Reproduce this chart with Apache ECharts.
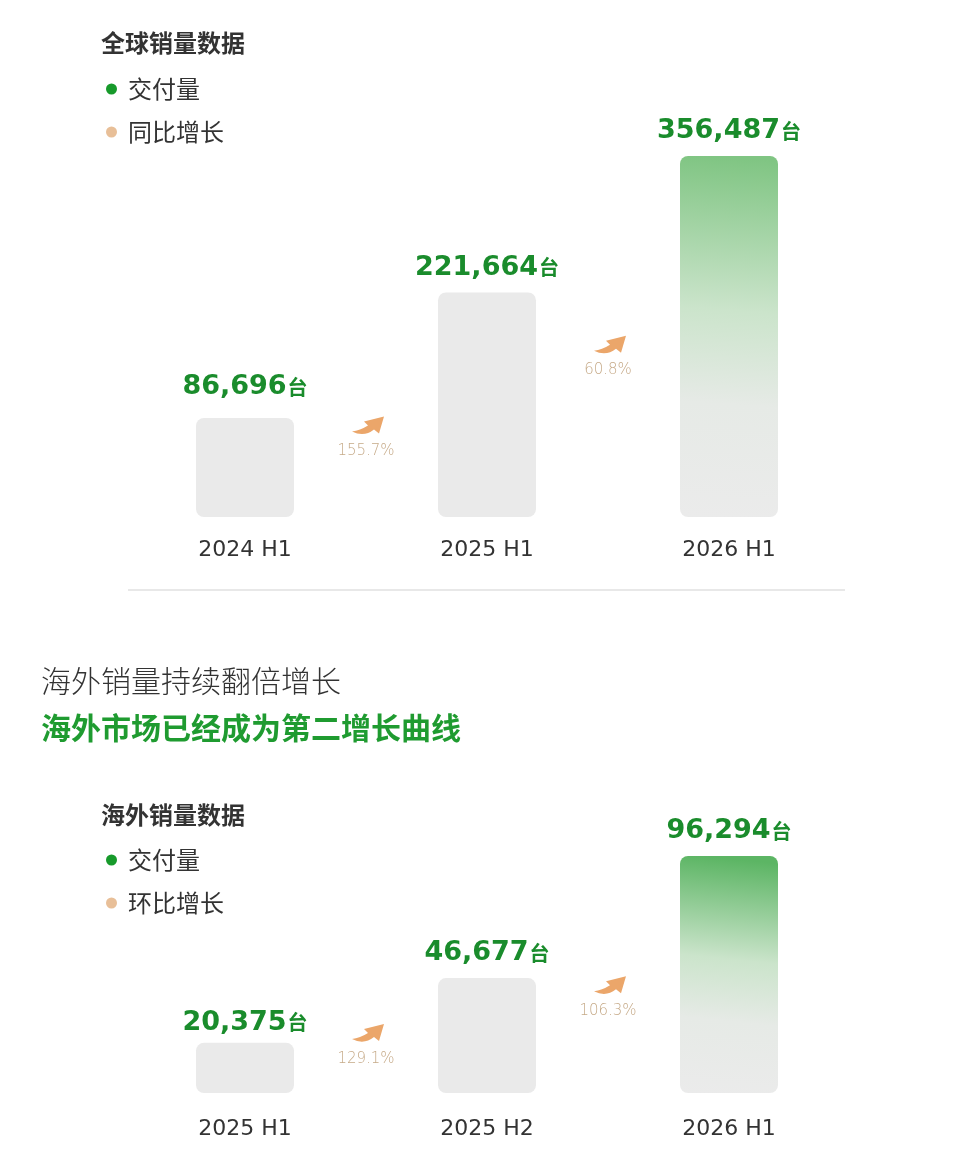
<!DOCTYPE html>
<html>
<head>
<meta charset="utf-8">
<script src="https://cdn.jsdelivr.net/npm/echarts@6/dist/echarts.min.js"></script>
<style>
html,body{margin:0;padding:0;background:#fff;}
#main{width:964px;height:1169px;}
</style>
</head>
<body>
<div id="main"></div>
<script>
// ---- data ----
const categories1 = ['2024 H1', '2025 H1', '2026 H1'];
const deliveries1 = [86696, 221664, 356487];
const growth1 = [155.7, 60.8];           // 同比增长 %
const categories2 = ['2025 H1', '2025 H2', '2026 H1'];
const deliveries2 = [20375, 46677, 96294];
const growth2 = [129.1, 106.3];           // 环比增长 %

// ---- style / layout ----
const CJK = '"Noto Sans CJK SC", "Noto Sans", sans-serif';
const NUM = '"DejaVu Sans", "Noto Sans CJK SC", sans-serif';
const GREEN = '#1a8c2c';
const GRAY_BAR = '#eaeaea';
const ARROW = 'M32 1 L12 6 L16 10 Q8 15 0 16 Q12 22 22 14 L27 18 Z';
const arrowDy1 = [-4, 52];
const arrowDy2 = [-10, 7];
const labelDist1 = [16, 10, 10];
const labelDist2 = [5, 10, 10];

function barData(values, gradTop, dists) {
  return values.map((v, i) => {
    const item = { value: v, label: { distance: dists[i] }, itemStyle: { color: GRAY_BAR } };
    if (i === values.length - 1) {
      item.itemStyle = {
        color: new echarts.graphic.LinearGradient(0.25, 0, 0, 1, [
          { offset: 0, color: gradTop },
          { offset: 0.42, color: '#cbe4cb' },
          { offset: 0.68, color: '#e6eae6' },
          { offset: 1, color: '#ebebeb' }
        ])
      };
    }
    return item;
  });
}

function barSeries(name, values, idx, gradTop, dists, extra) {
  return Object.assign({
    name: name,
    type: 'bar',
    xAxisIndex: idx, yAxisIndex: idx,
    barWidth: 98,
    data: barData(values, gradTop, dists),
    itemStyle: { borderRadius: 8 },
    label: {
      show: true, position: 'top', distance: 10,
      formatter: p => '{v|' + p.value.toLocaleString('en-US') + '}{u|台}',
      rich: {
        v: { fontFamily: NUM, fontSize: 27, fontWeight: 'bold', color: GREEN, lineHeight: 30 },
        u: { fontFamily: CJK, fontSize: 20, fontWeight: 'bold', color: GREEN, lineHeight: 30, padding: [0, 0, 0, 1] }
      }
    },
    emphasis: { disabled: true },
    silent: true
  }, extra || {});
}

function arrowSeries(name, values, growth, dyArr, idx) {
  return {
    name: name,
    type: 'custom',
    xAxisIndex: idx, yAxisIndex: idx,
    data: growth.map((g, i) => [i, values[i], g]),
    encode: { x: 0, y: 1 },
    silent: true,
    renderItem: (params, api) => {
      const i = api.value(0);
      const v = api.value(1);
      const g = api.value(2);
      const a = api.coord([i, v]);
      const b = api.coord([i + 1, v]);
      const cx = (a[0] + b[0]) / 2;
      const cy = a[1] + dyArr[i];
      return {
        type: 'group',
        children: [
          { type: 'path', shape: { pathData: ARROW, x: cx - 14, y: cy - 10, width: 32, height: 20 },
            style: { fill: '#eba66a' } },
          { type: 'text', x: cx, y: cy + 26,
            style: { text: g.toFixed(1) + '%', fontFamily: NUM, fontSize: 15, fontWeight: 200,
                     fill: '#c6aa88', align: 'center', verticalAlign: 'middle' } }
        ]
      };
    }
  };
}

function legend(top, second) {
  return {
    left: 101, top: top, orient: 'vertical', itemGap: 19, icon: 'circle',
    itemWidth: 11, itemHeight: 11, selectedMode: false,
    data: [
      { name: '交付量', itemStyle: { color: '#179a2b' } },
      { name: second, itemStyle: { color: '#e8bf98' } }
    ],
    textStyle: { fontFamily: CJK, fontSize: 24, color: '#333', padding: [0, 0, 0, 6] }
  };
}

function catAxis(cats, idx, margin) {
  return {
    type: 'category', gridIndex: idx, data: cats,
    axisLine: { show: false }, axisTick: { show: false },
    axisLabel: { fontFamily: NUM, fontSize: 22, color: '#333', margin: margin }
  };
}

function valAxis(idx) {
  return { type: 'value', gridIndex: idx, min: 0, max: 'dataMax', show: false, splitLine: { show: false } };
}

const chart = echarts.init(document.getElementById('main'), null, { renderer: 'canvas' });
chart.setOption({
  backgroundColor: '#fff',
  animation: false,
  grid: [
    { left: 124, right: 114, top: 156, bottom: 1169 - 517 },
    { left: 124, right: 114, top: 856, bottom: 1169 - 1093 }
  ],
  xAxis: [catAxis(categories1, 0, 22), catAxis(categories2, 1, 25)],
  yAxis: [valAxis(0), valAxis(1)],
  legend: [legend(72, '同比增长'), legend(843, '环比增长')],
  graphic: [
    { type: 'text', left: 101, top: 31, style: { text: '全球销量数据', fontFamily: CJK, fontSize: 24, fontWeight: 'bold', fill: '#333' } },
    { type: 'line', shape: { x1: 128, y1: 590, x2: 845, y2: 590 }, style: { stroke: '#e8e8e8', lineWidth: 2 } },
    { type: 'text', left: 41, top: 666, style: { text: '海外销量持续翻倍增长', fontFamily: CJK, fontSize: 30, fontWeight: 300, fill: '#333' } },
    { type: 'text', left: 41, top: 713, style: { text: '海外市场已经成为第二增长曲线', fontFamily: CJK, fontSize: 30, fontWeight: 'bold', fill: '#1f9b30' } },
    { type: 'text', left: 101, top: 803, style: { text: '海外销量数据', fontFamily: CJK, fontSize: 24, fontWeight: 'bold', fill: '#333' } }
  ],
  series: [
    barSeries('交付量', deliveries1, 0, '#80c583', labelDist1, { barMinHeight: 99 }),
    arrowSeries('同比增长', deliveries1, growth1, arrowDy1, 0),
    barSeries('交付量', deliveries2, 1, '#5cb564', labelDist2),
    arrowSeries('环比增长', deliveries2, growth2, arrowDy2, 1)
  ]
});
</script>
</body>
</html>
